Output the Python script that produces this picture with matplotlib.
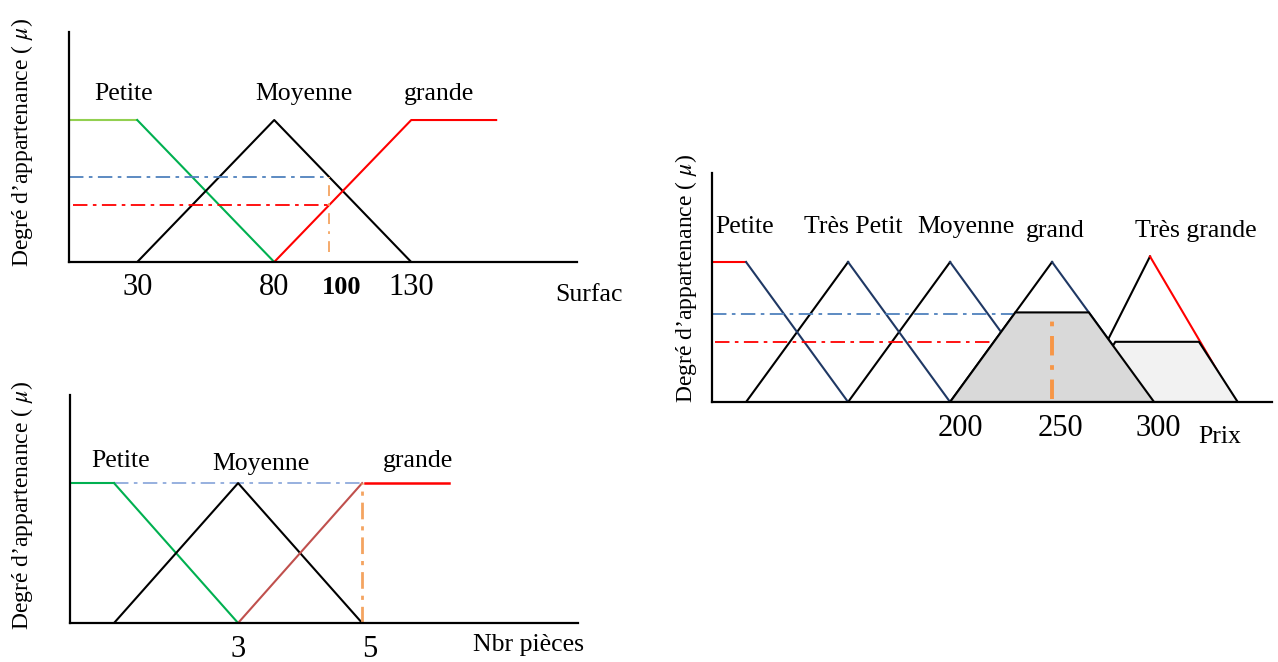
import matplotlib.pyplot as plt

plt.rcParams['font.family'] = ['Liberation Serif', 'DejaVu Serif']
plt.rcParams['mathtext.fontset'] = 'stix'

# ---- data: surface (top left) ----
surf_xlim = (5.1, 190.5)
surf_petite_flat_x = [5.1, 30]
surf_petite_flat_mu = [1, 1]
surf_petite_x = [30, 80]
surf_petite_mu = [1, 0]
surf_moyenne_x = [30, 80, 130]
surf_moyenne_mu = [0, 1, 0]
surf_grande_x = [80, 130, 161]
surf_grande_mu = [0, 1, 1]
surf_value = 100
surf_mu_moyenne = 0.6
surf_mu_grande = 0.4
surf_ticks = [30, 80, 130]
surf_labels = ['Petite', 'Moyenne', 'grande']
surf_label_x = [25, 91, 140]

# ---- data: number of rooms (bottom left) ----
piece_xlim = (0.29, 8.48)
piece_petite_flat_x = [0.29, 1]
piece_petite_flat_mu = [1, 1]
piece_petite_x = [1, 3]
piece_petite_mu = [1, 0]
piece_moyenne_x = [1, 3, 5]
piece_moyenne_mu = [0, 1, 0]
piece_grande_x = [3, 5]
piece_grande_mu = [0, 1]
piece_grande_flat_x = [5.05, 6.4]
piece_grande_flat_mu = [1, 1]
piece_value = 5
piece_mu = 1.0
piece_ticks = [3, 5]
piece_labels = ['Petite', 'Moyenne', 'grande']
piece_label_x = [1.1, 3.37, 5.9]
piece_label_y = [1.16, 1.14, 1.16]

# ---- data: price (right) ----
prix_xlim = (83.3, 357.8)
prix_petite_flat_x = [83.3, 100]
prix_petite_flat_mu = [1, 1]
prix_up = [([100, 150], [0, 1]), ([150, 200], [0, 1]), ([200, 250], [0, 1])]
prix_down = [([100, 150], [1, 0]), ([150, 200], [1, 0]), ([200, 250], [1, 0]),
             ([250, 300], [1, 0])]
prix_tg_up_x = [262, 298]
prix_tg_up_mu = [0, 1.04]
prix_tg_down_x = [298, 340]
prix_tg_down_mu = [1.04, 0]
prix_dark_x = [200, 232, 268, 300]
prix_dark_mu = [0, 0.64, 0.64, 0]
prix_light_x = [263, 281, 322, 341]
prix_light_mu = [0, 0.43, 0.43, 0]
prix_blue_mu, prix_blue_end = 0.63, 232
prix_red_mu, prix_red_end = 0.43, 222
prix_value = 250
prix_ticks = [200, 250, 300]
prix_tick_x = [205, 254, 302]
prix_labels = ['Petite', 'Très Petit', 'Moyenne', 'grand', 'Très grande']
prix_label_x = [99.5, 152.5, 208, 251.5, 320.6]
prix_label_y = [1.25, 1.25, 1.25, 1.22, 1.22]

W, H = 1278, 662
fig = plt.figure(figsize=(W / 100, H / 100), dpi=100)

NAVY = '#1F3864'
YLABEL = 'Degré d’appartenance ( $\\mu$)'


def panel(x0, y_top, x1, y_base, xlim, ytop):
    ax = fig.add_axes([x0 / W, 1 - y_base / H, (x1 - x0) / W, (y_base - y_top) / H])
    ax.set_xlim(*xlim)
    ax.set_ylim(0, ytop)
    ax.patch.set_alpha(0)
    for s in ['top', 'right']:
        ax.spines[s].set_visible(False)
    for s in ['left', 'bottom']:
        ax.spines[s].set_linewidth(1.6)
        ax.spines[s].set_color('black')
        ax.spines[s].set_zorder(6)
    ax.set_xticks([])
    ax.set_yticks([])
    return ax


def txt(ax, x, y, s, size=18.5, **kw):
    ax.text(x, y, s, fontsize=size, ha='center', va='center', clip_on=False, **kw)


# ---------- top left: surface ----------
ax = panel(69, 32, 577, 262, surf_xlim, 1.62)
ax.plot(surf_petite_flat_x, surf_petite_flat_mu, color='#92D050', lw=1.5)
ax.plot(surf_petite_x, surf_petite_mu, color='#00B050', lw=1.5)
ax.plot(surf_moyenne_x, surf_moyenne_mu, color='black', lw=1.5)
ax.plot(surf_grande_x, surf_grande_mu, color='#FF0000', lw=1.5)
ax.plot([surf_xlim[0], surf_value], [surf_mu_moyenne] * 2, color='#4F81BD', lw=1.3,
        dashes=(8, 3, 2, 3))
ax.plot([6.5, surf_value], [surf_mu_grande] * 2, color='#FF0000', lw=1.3,
        dashes=(8, 3, 2, 3))
ax.plot([surf_value, surf_value], [0.07, surf_mu_moyenne], color='#F4A460', lw=1.3,
        dashes=(6, 4, 1.5, 4))
for x, s in zip(surf_label_x, surf_labels):
    txt(ax, x, 1.18, s)
for t in surf_ticks:
    txt(ax, t, -0.18, str(t), size=22)
txt(ax, surf_value + 4.5, -0.18, str(surf_value), size=19, fontweight='bold')
txt(ax, 195, -0.23, 'Surfac')
fig.text(22 / W, 1 - 143 / H, YLABEL, rotation=90, ha='center', va='center', fontsize=17)

# ---------- bottom left: pieces ----------
ax = panel(70, 395, 578, 623, piece_xlim, 1.63)
ax.plot(piece_petite_flat_x, piece_petite_flat_mu, color='#00B050', lw=1.5)
ax.plot(piece_petite_x, piece_petite_mu, color='#00B050', lw=1.5)
ax.plot(piece_moyenne_x, piece_moyenne_mu, color='black', lw=1.5)
ax.plot(piece_grande_x, piece_grande_mu, color='#C0504D', lw=1.5)
ax.plot(piece_grande_flat_x, piece_grande_flat_mu, color='#FF0000', lw=1.8)
ax.plot([piece_petite_flat_x[1], piece_value], [piece_mu] * 2, color='#8FAADC', lw=1.3,
        dashes=(8, 3, 2, 3), zorder=1)
ax.plot([piece_value, piece_value], [0, piece_mu], color='#F4A460', lw=2.0,
        dashes=(6, 2.5, 1.5, 2.5))
for x, y, s in zip(piece_label_x, piece_label_y, piece_labels):
    txt(ax, x, y, s)
txt(ax, piece_ticks[0], -0.19, str(piece_ticks[0]), size=22)
txt(ax, piece_ticks[1] + 0.12, -0.19, str(piece_ticks[1]), size=22)
txt(ax, 7.69, -0.16, 'Nbr pièces')
fig.text(22 / W, 1 - 506 / H, YLABEL, rotation=90, ha='center', va='center', fontsize=17)

# ---------- right: prix ----------
ax = panel(712, 173, 1272, 402, prix_xlim, 1.636)
ax.plot(prix_petite_flat_x, prix_petite_flat_mu, color='#FF0000', lw=1.5, zorder=2)
for xs, ms in prix_up:
    ax.plot(xs, ms, color='black', lw=1.5, zorder=2)
for xs, ms in prix_down:
    ax.plot(xs, ms, color=NAVY, lw=1.5, zorder=2)
ax.plot(prix_tg_up_x, prix_tg_up_mu, color='black', lw=1.5, zorder=2)
ax.plot(prix_tg_down_x, prix_tg_down_mu, color='#FF0000', lw=1.5, zorder=2)
ax.plot([prix_xlim[0], prix_blue_end], [prix_blue_mu] * 2, color='#4F81BD', lw=1.3,
        dashes=(8, 3, 2, 3), zorder=2)
ax.plot([prix_xlim[0] + 1.5, prix_red_end], [prix_red_mu] * 2, color='#FF0000', lw=1.3,
        dashes=(8, 3, 2, 3), zorder=2)
ax.fill(prix_light_x, prix_light_mu, facecolor='#F2F2F2', edgecolor='black', lw=1.5,
        zorder=3)
ax.fill(prix_dark_x, prix_dark_mu, facecolor='#D9D9D9', edgecolor='black', lw=1.5,
        zorder=4)
ax.plot([prix_value, prix_value], [0.02, prix_dark_mu[1]], color='#F79646', lw=2.8,
        dashes=(5, 2.5, 1.2, 2.5), zorder=5)
for x, y, s in zip(prix_label_x, prix_label_y, prix_labels):
    txt(ax, x, y, s)
for x, t in zip(prix_tick_x, prix_ticks):
    txt(ax, x, -0.19, str(t), size=22)
txt(ax, 332, -0.25, 'Prix')
fig.text(686 / W, 1 - 279 / H, YLABEL, rotation=90, ha='center', va='center', fontsize=17)

fig.savefig('out.png', dpi=100)
